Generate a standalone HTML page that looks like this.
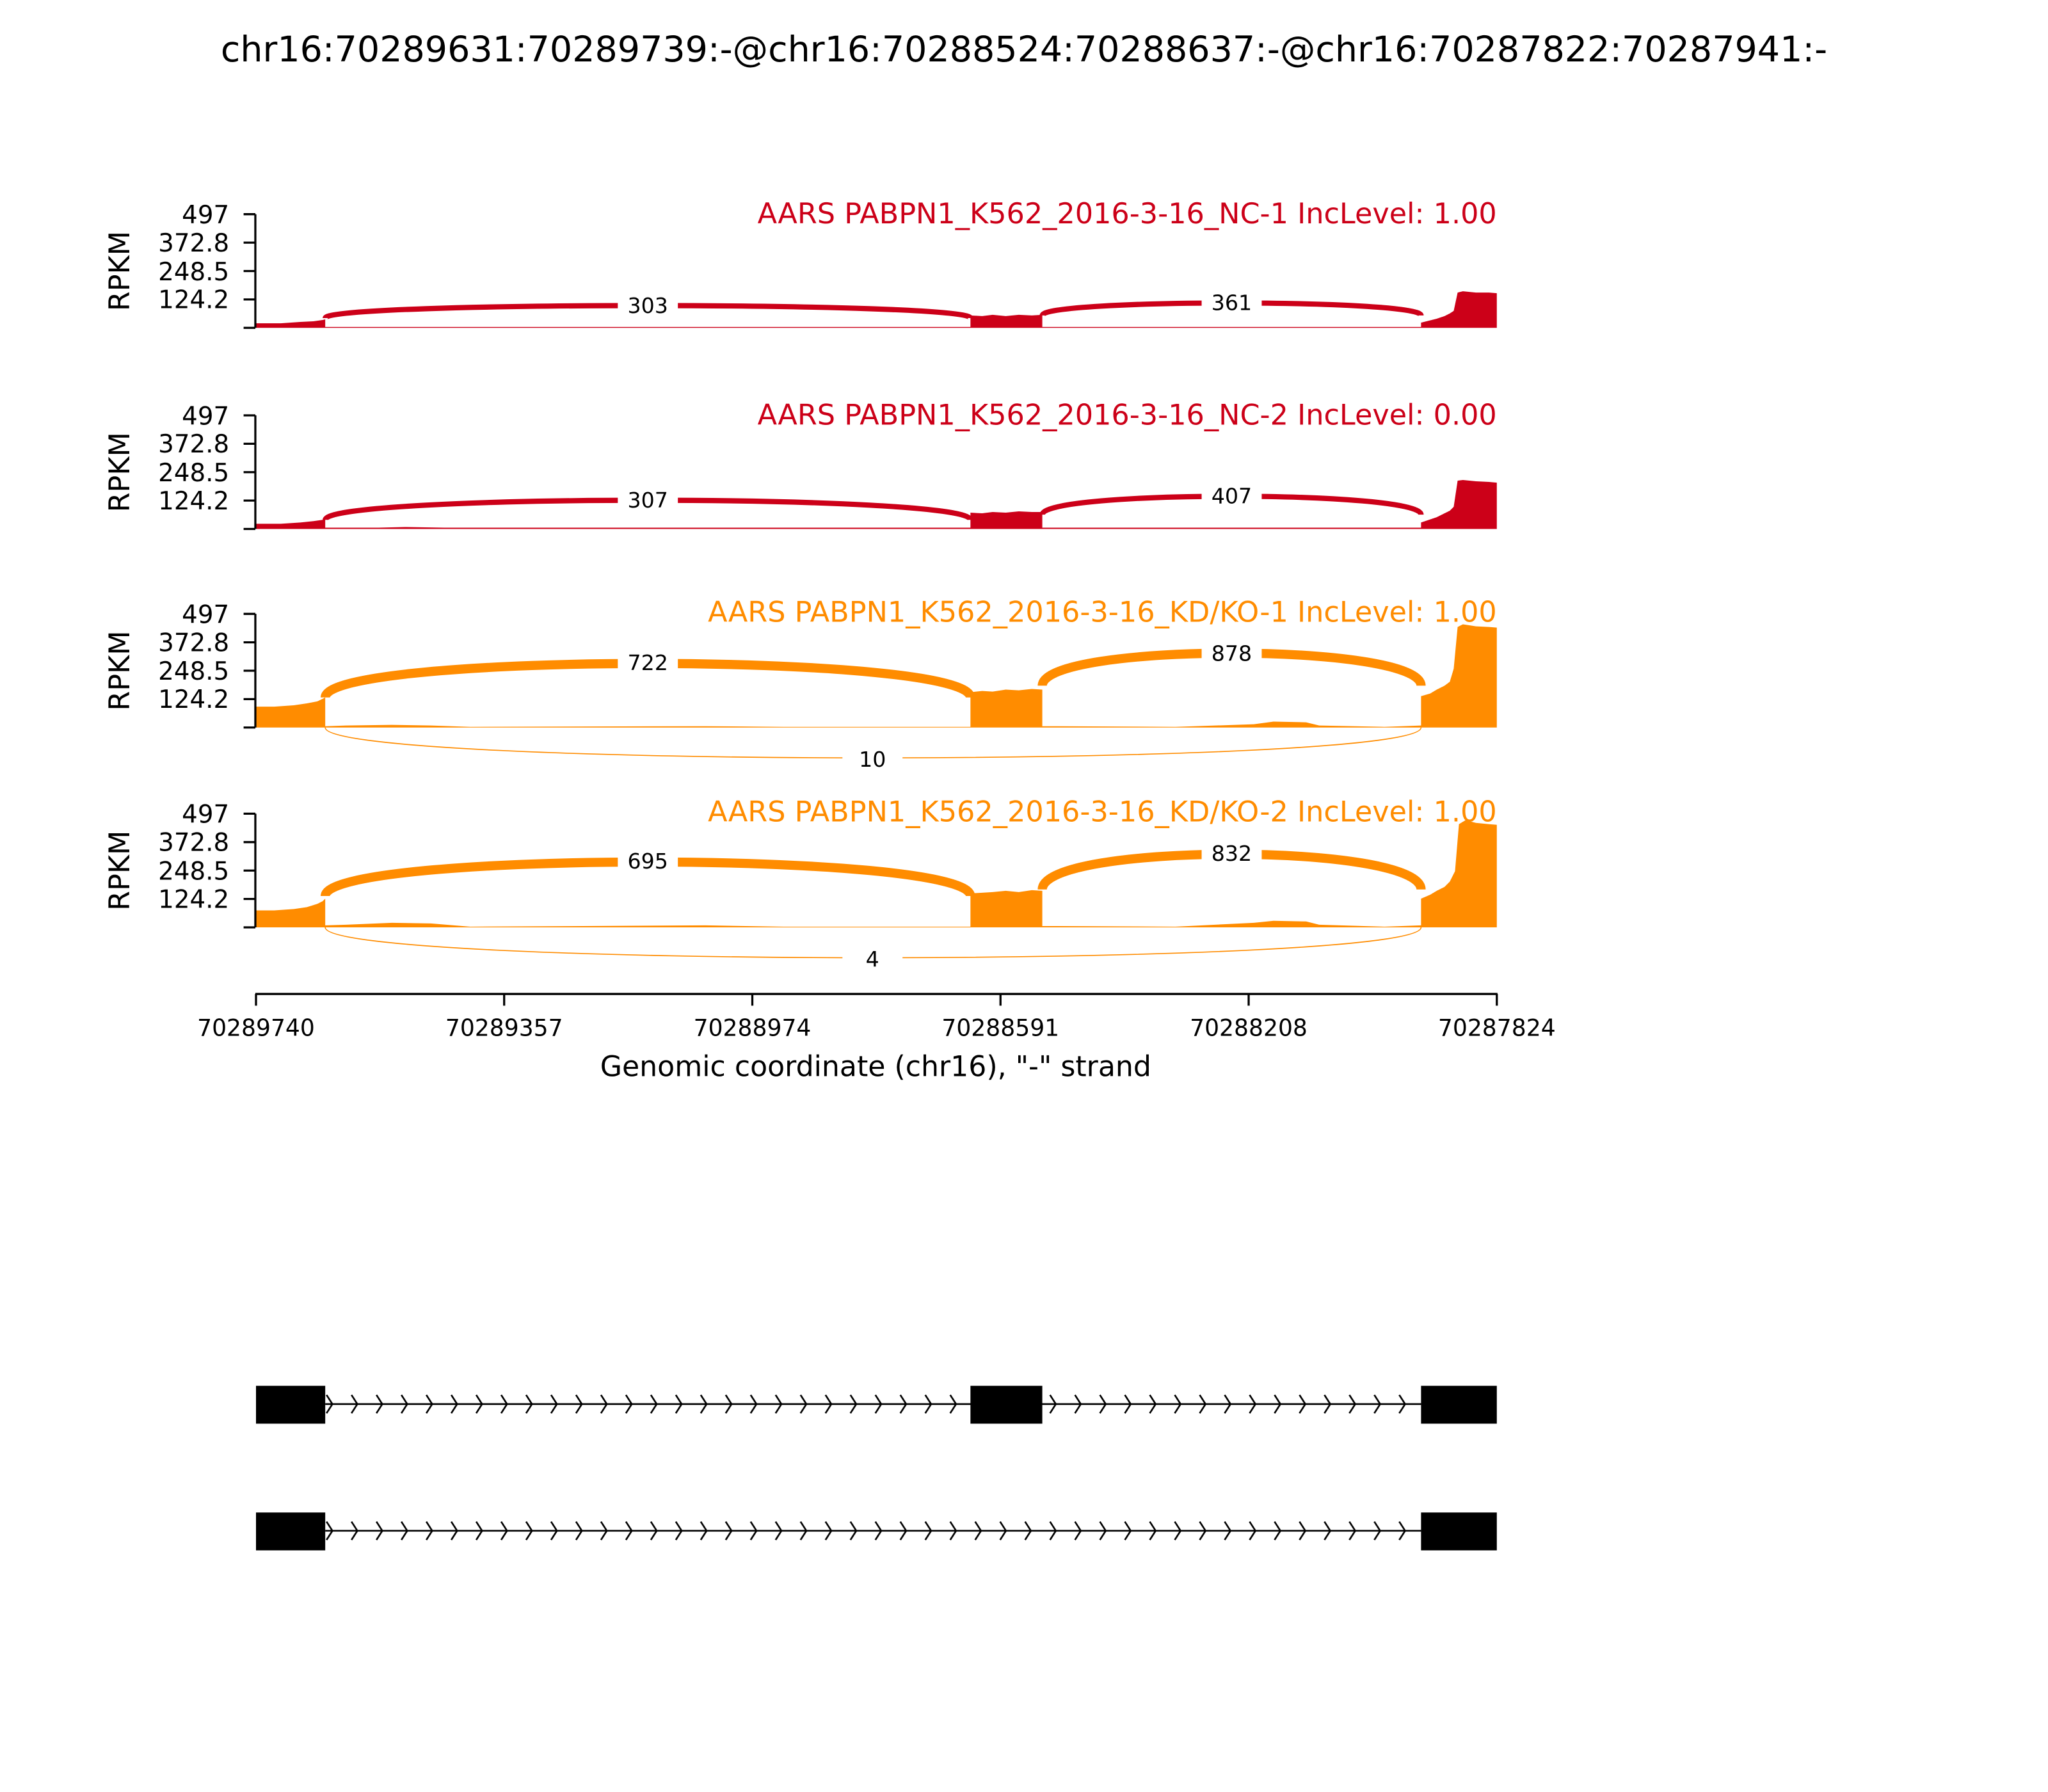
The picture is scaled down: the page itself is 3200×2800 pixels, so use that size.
<!DOCTYPE html>
<html><head><meta charset="utf-8"><style>html,body{margin:0;padding:0;background:#fff}svg{display:block}</style></head>
<body>
<svg xmlns="http://www.w3.org/2000/svg" width="3200" height="2800" viewBox="0 0 1568 1372" font-family="DejaVu Sans, Liberation Sans, sans-serif">
<defs>
<pattern id="chev" x="249" y="0" width="19.1" height="1372" patternUnits="userSpaceOnUse">
<path d="M1,1068 L5.5,1075 L1,1082 M1,1165 L5.5,1172 L1,1179" fill="none" stroke="#000" stroke-width="1.3"/>
</pattern>
</defs>
<rect width="1568" height="1372" fill="#fff"/>
<text x="784" y="47" font-size="27.2" text-anchor="middle" textLength="1230" lengthAdjust="spacingAndGlyphs">chr16:70289631:70289739:-@chr16:70288524:70288637:-@chr16:70287822:70287941:-</text>

<!-- Panel 1 -->
<g>
<path d="M196,251 L196,247.5 L215,247.5 L230,246.5 L240,246 L247,245 L249,244.5 L249,250.3 L743,250.3 L743,241.5 L752,242 L760,241 L770,242 L780,241 L790,241.5 L798,241 L798,250.3 L1088,250.3 L1088,247 L1100,244 L1106,242 L1110,240 L1113,238 L1116,224 L1120,223 L1130,224 L1140,224 L1146,224.5 L1146,251 Z" fill="#cc0018"/>
<path d="M249,243.5 C249,230.8 743,230.8 743,243.5" fill="none" stroke="#cc0018" stroke-width="4"/>
<path d="M798,241.5 C798,228.8 1088,228.8 1088,241.5" fill="none" stroke="#cc0018" stroke-width="4"/>
<rect x="473" y="226" width="46" height="16" fill="#fff"/><text x="496" y="239.5" font-size="16.3" text-anchor="middle">303</text>
<rect x="920" y="224" width="46" height="16" fill="#fff"/><text x="943" y="237.5" font-size="16.3" text-anchor="middle">361</text>
<path d="M195.5,164 L195.5,251 M186.5,164 H195.5 M186.5,185.75 H195.5 M186.5,207.5 H195.5 M186.5,229.25 H195.5 M186.5,251 H195.5" stroke="#000" stroke-width="1.6" fill="none"/>
<g font-size="19" text-anchor="end"><text x="175.5" y="171">497</text><text x="175.5" y="192.5">372.8</text><text x="175.5" y="214.5">248.5</text><text x="175.5" y="236">124.2</text></g>
<text transform="translate(99,207.5) rotate(-90)" font-size="21.8" text-anchor="middle">RPKM</text>
<text x="1146" y="171" font-size="21.8" fill="#cc0018" text-anchor="end" textLength="566" lengthAdjust="spacingAndGlyphs">AARS PABPN1_K562_2016-3-16_NC-1 IncLevel: 1.00</text>
</g>

<!-- Panel 2 -->
<g>
<path d="M196,405 L196,401 L215,401 L230,400 L240,399 L247,398 L249,397.5 L249,404 L290,404 L310,403.5 L340,404 L743,404 L743,392.5 L752,393 L760,392 L770,392.5 L780,391.5 L790,392 L798,392 L798,404 L1088,404 L1088,400 L1100,396 L1106,393 L1110,391 L1113,388 L1116,368 L1120,367.5 L1130,368.5 L1140,369 L1146,369.5 L1146,405 Z" fill="#cc0018"/>
<path d="M249,398 C249,378 743,378 743,398" fill="none" stroke="#cc0018" stroke-width="4"/>
<path d="M798,394 C798,375.3 1088,375.3 1088,394" fill="none" stroke="#cc0018" stroke-width="4"/>
<rect x="473" y="375" width="46" height="16" fill="#fff"/><text x="496" y="388.5" font-size="16.3" text-anchor="middle">307</text>
<rect x="920" y="372" width="46" height="16" fill="#fff"/><text x="943" y="385.5" font-size="16.3" text-anchor="middle">407</text>
<path d="M195.5,318 L195.5,405 M186.5,318 H195.5 M186.5,339.75 H195.5 M186.5,361.5 H195.5 M186.5,383.25 H195.5 M186.5,405 H195.5" stroke="#000" stroke-width="1.6" fill="none"/>
<g font-size="19" text-anchor="end"><text x="175.5" y="325">497</text><text x="175.5" y="346.5">372.8</text><text x="175.5" y="368.5">248.5</text><text x="175.5" y="390">124.2</text></g>
<text transform="translate(99,361.5) rotate(-90)" font-size="21.8" text-anchor="middle">RPKM</text>
<text x="1146" y="325" font-size="21.8" fill="#cc0018" text-anchor="end" textLength="566" lengthAdjust="spacingAndGlyphs">AARS PABPN1_K562_2016-3-16_NC-2 IncLevel: 0.00</text>
</g>

<!-- Panel 3 -->
<g>
<path d="M196,557 L196,541 L210,541 L225,540 L235,538.5 L243,537 L247,535 L249,534 L249,556 L265,555.5 L300,555 L330,555.5 L360,556.5 L540,556 L600,556.5 L743,556.5 L743,530 L752,529 L760,529.5 L770,528 L780,528.5 L790,527.5 L798,528 L798,556 L900,556.5 L960,554.5 L975,552.5 L1000,553 L1010,555.5 L1060,556.5 L1088,555.5 L1088,533 L1095,531 L1100,528 L1106,525 L1110,522 L1113,512 L1116,480 L1120,478 L1130,479.5 L1140,480 L1146,480.5 L1146,557 Z" fill="#ff8c00"/>
<path d="M249,534 C249,499.3 743,499.3 743,534" fill="none" stroke="#ff8c00" stroke-width="7"/>
<path d="M798,525 C798,491.7 1088,491.7 1088,525" fill="none" stroke="#ff8c00" stroke-width="7"/>
<path d="M249,557 C249,588 1088,588 1088,557" fill="none" stroke="#ff8c00" stroke-width="0.8"/>
<rect x="473" y="499" width="46" height="17" fill="#fff"/><text x="496" y="513" font-size="16.3" text-anchor="middle">722</text>
<rect x="920" y="492" width="46" height="17" fill="#fff"/><text x="943" y="506" font-size="16.3" text-anchor="middle">878</text>
<rect x="645" y="573" width="46" height="17" fill="#fff"/><text x="668" y="587" font-size="16.3" text-anchor="middle">10</text>
<path d="M195.5,470 L195.5,557 M186.5,470 H195.5 M186.5,491.75 H195.5 M186.5,513.5 H195.5 M186.5,535.25 H195.5 M186.5,557 H195.5" stroke="#000" stroke-width="1.6" fill="none"/>
<g font-size="19" text-anchor="end"><text x="175.5" y="477">497</text><text x="175.5" y="498.5">372.8</text><text x="175.5" y="520.5">248.5</text><text x="175.5" y="542">124.2</text></g>
<text transform="translate(99,513.5) rotate(-90)" font-size="21.8" text-anchor="middle">RPKM</text>
<text x="1146" y="476" font-size="21.8" fill="#ff8c00" text-anchor="end" textLength="604" lengthAdjust="spacingAndGlyphs">AARS PABPN1_K562_2016-3-16_KD/KO-1 IncLevel: 1.00</text>
</g>

<!-- Panel 4 -->
<g>
<path d="M196,710 L196,697 L210,697 L225,696 L235,694.5 L243,692 L247,690 L249,688 L249,708.5 L265,708 L300,706.5 L330,707 L360,709.5 L540,708.5 L600,709.5 L743,709.5 L743,684 L752,683.5 L760,683 L770,682 L780,683 L790,681.5 L798,682 L798,709 L900,709.5 L960,706.5 L975,705 L1000,705.5 L1010,708 L1060,709.5 L1088,708.5 L1088,688 L1095,685 L1100,682 L1106,679 L1110,675 L1114,667 L1117,631 L1122,628 L1130,630 L1140,631 L1146,631.5 L1146,710 Z" fill="#ff8c00"/>
<path d="M249,686 C249,651.3 743,651.3 743,686" fill="none" stroke="#ff8c00" stroke-width="7"/>
<path d="M798,681 C798,645 1088,645 1088,681" fill="none" stroke="#ff8c00" stroke-width="7"/>
<path d="M249,710 C249,741 1088,741 1088,710" fill="none" stroke="#ff8c00" stroke-width="0.8"/>
<rect x="473" y="651" width="46" height="17" fill="#fff"/><text x="496" y="665" font-size="16.3" text-anchor="middle">695</text>
<rect x="920" y="645" width="46" height="17" fill="#fff"/><text x="943" y="659" font-size="16.3" text-anchor="middle">832</text>
<rect x="645" y="726" width="46" height="17" fill="#fff"/><text x="668" y="740" font-size="16.3" text-anchor="middle">4</text>
<path d="M195.5,623 L195.5,710 M186.5,623 H195.5 M186.5,644.75 H195.5 M186.5,666.5 H195.5 M186.5,688.25 H195.5 M186.5,710 H195.5" stroke="#000" stroke-width="1.6" fill="none"/>
<g font-size="19" text-anchor="end"><text x="175.5" y="630">497</text><text x="175.5" y="651.5">372.8</text><text x="175.5" y="673.5">248.5</text><text x="175.5" y="695">124.2</text></g>
<text transform="translate(99,666.5) rotate(-90)" font-size="21.8" text-anchor="middle">RPKM</text>
<text x="1146" y="629" font-size="21.8" fill="#ff8c00" text-anchor="end" textLength="604" lengthAdjust="spacingAndGlyphs">AARS PABPN1_K562_2016-3-16_KD/KO-2 IncLevel: 1.00</text>
</g>

<!-- X axis -->
<path d="M195.5,761 H1146.5 M196,761 V770 M386,761 V770 M576,761 V770 M766,761 V770 M956,761 V770 M1146,761 V770" stroke="#000" stroke-width="1.6" fill="none"/>
<g font-size="17.7" text-anchor="middle">
<text x="196" y="793">70289740</text><text x="386" y="793">70289357</text><text x="576" y="793">70288974</text><text x="766" y="793">70288591</text><text x="956" y="793">70288208</text><text x="1146" y="793">70287824</text>
</g>
<text x="459.5" y="824" font-size="21.8" textLength="422" lengthAdjust="spacingAndGlyphs">Genomic coordinate (chr16), "-" strand</text>

<!-- Gene models -->
<g>
<path d="M249,1075 H1088 M249,1172 H1088" stroke="#000" stroke-width="1.3"/>
<rect x="249" y="1060" width="839" height="130" fill="url(#chev)"/>
<rect x="196" y="1061" width="53" height="29" fill="#000"/>
<rect x="743" y="1061" width="55" height="29" fill="#000"/>
<rect x="1088" y="1061" width="58" height="29" fill="#000"/>
<rect x="196" y="1158" width="53" height="29" fill="#000"/>
<rect x="1088" y="1158" width="58" height="29" fill="#000"/>
</g>
</svg>
</body></html>
